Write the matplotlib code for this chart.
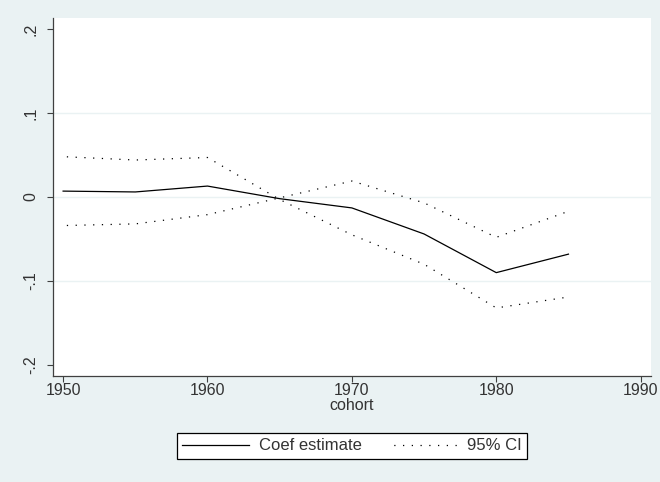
import matplotlib.pyplot as plt

plt.rcParams['font.family'] = ['Liberation Sans', 'DejaVu Sans']
plt.rcParams['font.size'] = 11

# cohort-level estimates with 95% confidence bounds
cohort = [1950, 1955, 1960, 1965, 1970, 1975, 1980, 1985]
coef = [0.007, 0.006, 0.013, -0.002, -0.013, -0.044, -0.090, -0.068]
ci_a = [0.048, 0.044, 0.047, -0.003, -0.045, -0.080, -0.132, -0.119]
ci_b = [-0.034, -0.032, -0.021, -0.001, 0.019, -0.007, -0.048, -0.017]

xticks = [1950, 1960, 1970, 1980, 1990]
yticks = [-0.2, -0.1, 0, 0.1, 0.2]
ytick_labels = ['-.2', '-.1', '0', '.1', '.2']

bg = '#eaf2f3'
txt = '#333333'

fig = plt.figure(figsize=(6.6, 4.82), dpi=100, facecolor=bg)
ax = fig.add_axes([0.0803, 0.2199, 0.9057, 0.7428])
ax.set_facecolor('white')

for y in [-0.1, 0, 0.1]:
    ax.axhline(y, color=bg, lw=1.0, zorder=0)

ax.plot(cohort, coef, color='black', lw=0.9, label='Coef estimate')
ax.plot(cohort, ci_a, color='black', lw=0.9, ls=(4, (1, 6)), label='95% CI')
ax.plot(cohort, ci_b, color='black', lw=0.9, ls=(4, (1, 6)))

ax.set_xlim(1949.3, 1990.7)
ax.set_ylim(-0.213, 0.213)
ax.set_xticks(xticks)
ax.set_yticks(yticks)
ax.set_yticklabels(ytick_labels, rotation=90, va='center')

for side in ['top', 'right']:
    ax.spines[side].set_visible(False)
for side in ['left', 'bottom']:
    ax.spines[side].set_color('#404040')
    ax.spines[side].set_linewidth(0.9)
ax.tick_params(direction='out', length=4.5, width=0.8, color='#404040',
               labelcolor=txt, labelsize=11.5)
ax.tick_params(axis='y', pad=6)
ax.tick_params(axis='x', pad=0.5)

ax.set_xlabel('cohort', color=txt, fontsize=11.5, labelpad=0)

leg = fig.legend(loc='center', bbox_to_anchor=(352 / 660, 1 - 446 / 482), ncol=2,
                 frameon=True, fancybox=False, edgecolor='black', facecolor='white',
                 framealpha=1, fontsize=12, handlelength=4.0, columnspacing=1.7,
                 borderpad=0.35, handletextpad=0.6)
leg.get_frame().set_linewidth(0.9)
for t in leg.get_texts():
    t.set_color(txt)

fig.savefig('out.png', dpi=100, facecolor=bg)
